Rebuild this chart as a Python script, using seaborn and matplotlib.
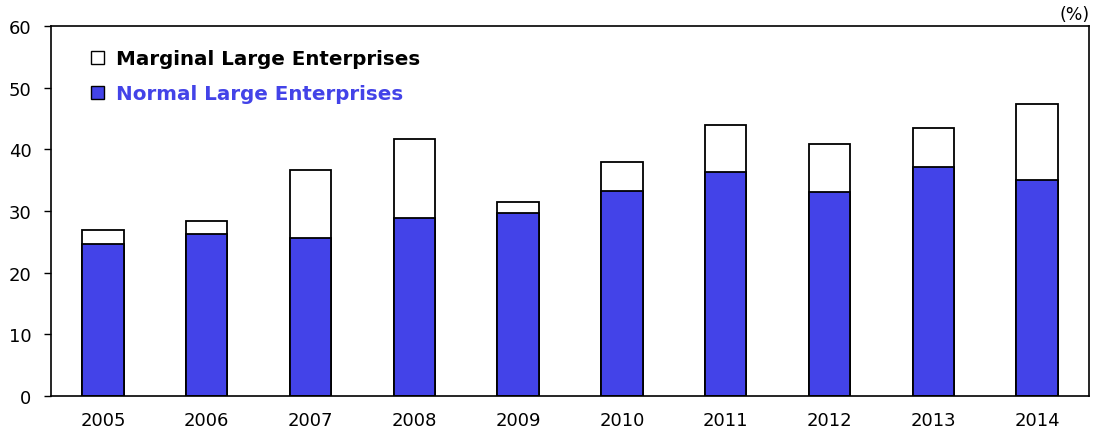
import matplotlib
matplotlib.use("Agg")
import matplotlib.pyplot as plt
import seaborn as sns
import pandas as pd
from matplotlib.patches import Patch

years = ["2005", "2006", "2007", "2008", "2009", "2010", "2011", "2012", "2013", "2014"]
normal = [24.6, 26.3, 25.6, 28.9, 29.6, 33.3, 36.4, 33.1, 37.2, 35.1]
total = [26.9, 28.4, 36.7, 41.7, 31.4, 37.9, 43.9, 40.9, 43.5, 47.4]

BLUE = "#4343E8"

sns.set_theme(style="white")
plt.rcParams['font.family'] = ['DejaVu Sans']

df = pd.DataFrame({"year": years, "normal": normal, "total": total})

fig = plt.figure(figsize=(10.93, 4.31), dpi=100)
ax = fig.add_axes([0.0467, 0.0789, 0.9496, 0.8585])

sns.barplot(data=df, x="year", y="total", color="white", edgecolor="black",
            linewidth=1.3, width=0.4, ax=ax, saturation=1)
sns.barplot(data=df, x="year", y="normal", color=BLUE, edgecolor="black",
            linewidth=1.3, width=0.4, ax=ax, saturation=1)

ax.set_ylim(0, 60)
ax.set_xlim(-0.5, len(years) - 0.5)
ax.set_yticks(range(0, 61, 10))
ax.set_xlabel("")
ax.set_ylabel("")
for s in ax.spines.values():
    s.set_color("black")
    s.set_linewidth(1.2)
ax.tick_params(axis="y", which="both", left=True, length=5, width=1, color="black",
               labelsize=13, pad=9, labelcolor="black")
ax.tick_params(axis="x", bottom=False, labelsize=13, pad=5, labelcolor="black")

handles = [Patch(facecolor="white", edgecolor="black", linewidth=1),
           Patch(facecolor=BLUE, edgecolor="black", linewidth=1)]
leg = ax.legend(handles, ["Marginal Large Enterprises", "Normal Large Enterprises"],
                loc="upper left", bbox_to_anchor=(0.021, 0.985), frameon=False,
                prop={"size": 14.3, "weight": "bold"},
                handlelength=0.65, handleheight=0.65,
                handletextpad=0.6, labelspacing=0.8)
leg.get_texts()[0].set_color("black")
leg.get_texts()[1].set_color(BLUE)

fig.text(0.997, 0.944, "(%)", ha="right", va="bottom", fontsize=12.5, color="black")

fig.savefig("out.png", dpi=100)
